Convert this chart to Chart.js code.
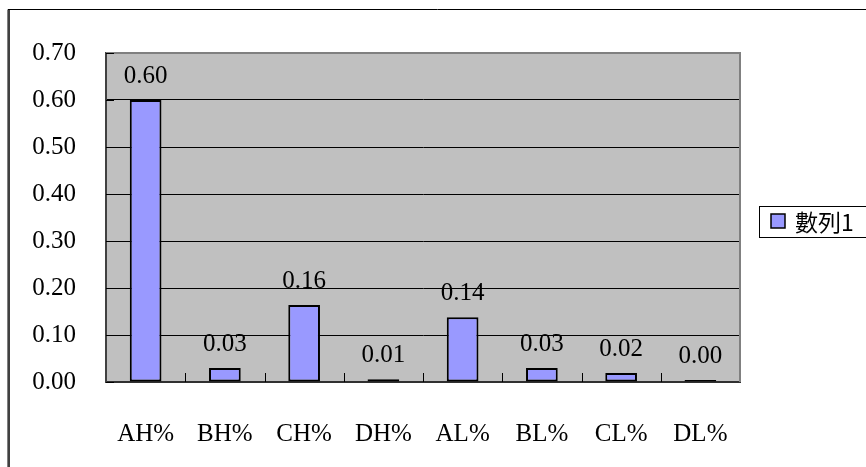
<!DOCTYPE html>
<html>
<head>
<meta charset="utf-8">
<script src="https://cdn.jsdelivr.net/npm/chart.js@4.4.1/dist/chart.umd.min.js"></script>
<style>
  html, body { margin: 0; padding: 0; background: #ffffff; }
  #wrap { width: 866px; height: 467px; }
</style>
</head>
<body>
<div id="wrap"><canvas id="c" width="866" height="467"></canvas></div>
<script>
// Category labels along the bottom axis
const categories = ['AH%', 'BH%', 'CH%', 'DH%', 'AL%', 'BL%', 'CL%', 'DL%'];
// Series name shown in the legend
const seriesName = '數列1';
// Share of each category
const values = [0.600, 0.030, 0.164, 0.006, 0.138, 0.030, 0.019, 0.004];
// Value axis range and step
const yMin = 0;
const yMax = 0.7;
const yStep = 0.1;

const SERIF = "'Liberation Serif', 'Times New Roman', 'Noto Sans CJK TC', serif";
const LEGEND_FONT = "'Noto Sans CJK TC', 'Liberation Serif', serif";

// Background, outer frame and grey plot area
const frame = {
  id: 'frame',
  beforeDraw(chart) {
    const { ctx, chartArea: a, width, height } = chart;
    ctx.save();
    ctx.fillStyle = '#ffffff';
    ctx.fillRect(0, 0, width, height);
    ctx.fillStyle = '#c0c0c0';
    ctx.fillRect(a.left, a.top, a.right - a.left, a.bottom - a.top);
    // outer chart border
    ctx.strokeStyle = '#000000';
    ctx.lineWidth = 1;
    ctx.beginPath();
    ctx.moveTo(8, height + 2);
    ctx.lineTo(8, 9.5);
    ctx.lineTo(width + 2, 9.5);
    ctx.stroke();
    ctx.strokeStyle = '#404040';
    ctx.lineWidth = 2;
    ctx.beginPath();
    ctx.moveTo(9, 10);
    ctx.lineTo(9, height + 2);
    ctx.stroke();
    ctx.restore();
  }
};

// Plot border on top/right plus short inward tick marks
const plotMarks = {
  id: 'plotMarks',
  beforeDatasetsDraw(chart) {
    const { ctx, chartArea: a, scales } = chart;
    ctx.save();
    ctx.strokeStyle = '#808080';
    ctx.lineWidth = 2;
    ctx.beginPath();
    ctx.moveTo(a.left, a.top);
    ctx.lineTo(a.right, a.top);
    ctx.lineTo(a.right, a.bottom);
    ctx.stroke();

    ctx.strokeStyle = '#000000';
    ctx.lineWidth = 1;
    ctx.beginPath();
    scales.y.ticks.forEach(t => {
      const y = Math.round(scales.y.getPixelForValue(t.value)) + 0.5;
      ctx.moveTo(a.left, y);
      ctx.lineTo(a.left + 8, y);
    });
    for (let i = 1; i < categories.length; i++) {
      const x = Math.round((scales.x.getPixelForValue(i - 1) + scales.x.getPixelForValue(i)) / 2) + 0.5;
      ctx.moveTo(x, a.bottom);
      ctx.lineTo(x, a.bottom - 9);
    }
    ctx.stroke();
    ctx.restore();
  }
};

// Value labels above each bar
const valueLabels = {
  id: 'valueLabels',
  afterDatasetsDraw(chart) {
    const { ctx } = chart;
    const meta = chart.getDatasetMeta(0);
    ctx.save();
    ctx.fillStyle = '#000000';
    ctx.font = '25px ' + SERIF;
    ctx.textAlign = 'center';
    ctx.textBaseline = 'alphabetic';
    meta.data.forEach((bar, i) => {
      const v = chart.data.datasets[0].data[i];
      ctx.fillText(v.toFixed(2), bar.x, bar.y - 17);
    });
    ctx.restore();
  }
};

// Legend box on the right side
const sideLegend = {
  id: 'sideLegend',
  afterDraw(chart) {
    const { ctx, width } = chart;
    const ds = chart.data.datasets[0];
    ctx.save();
    ctx.fillStyle = '#ffffff';
    ctx.fillRect(759, 206, width - 759 + 5, 32);
    ctx.strokeStyle = '#000000';
    ctx.lineWidth = 1;
    ctx.strokeRect(759.5, 206.5, width - 759 + 5, 31);
    ctx.fillStyle = ds.backgroundColor;
    ctx.fillRect(771, 214, 14, 14);
    ctx.strokeStyle = '#000000';
    ctx.lineWidth = 1.5;
    ctx.strokeRect(771, 214, 14, 14);
    ctx.fillStyle = '#000000';
    ctx.font = '23px ' + LEGEND_FONT;
    ctx.textAlign = 'left';
    ctx.textBaseline = 'middle';
    ctx.fillText(ds.label, 795, 222);
    ctx.restore();
  }
};

new Chart(document.getElementById('c'), {
  type: 'bar',
  data: {
    labels: categories,
    datasets: [{
      label: seriesName,
      data: values,
      backgroundColor: '#9999ff',
      borderColor: '#000000',
      borderWidth: 2,
      borderSkipped: false,
      categoryPercentage: 1.0,
      barPercentage: 0.4
    }]
  },
  options: {
    responsive: false,
    animation: false,
    devicePixelRatio: 1,
    layout: { padding: { top: 53, right: 126, bottom: 0, left: 0 } },
    plugins: {
      legend: { display: false },
      tooltip: { enabled: false }
    },
    scales: {
      x: {
        grid: { display: false, drawTicks: false },
        border: { display: true, color: '#303030', width: 2 },
        ticks: {
          color: '#000000',
          font: { family: SERIF, size: 25 },
          padding: 37,
          maxRotation: 0,
          autoSkip: false
        },
        afterFit(scale) { scale.height = 85; }
      },
      y: {
        min: yMin,
        max: yMax,
        grid: {
          drawTicks: false,
          color: ctx => (ctx.tick && Math.abs(ctx.tick.value - yMax) < 1e-9) ? 'rgba(0,0,0,0)' : '#000000',
          lineWidth: 1
        },
        border: { display: true, color: '#404040', width: 2 },
        ticks: {
          stepSize: yStep,
          color: '#000000',
          font: { family: SERIF, size: 25 },
          padding: 30,
          callback: v => Number(v).toFixed(2)
        },
        afterFit(scale) { scale.width = 106; }
      }
    }
  },
  plugins: [frame, plotMarks, valueLabels, sideLegend]
});
</script>
</body>
</html>
